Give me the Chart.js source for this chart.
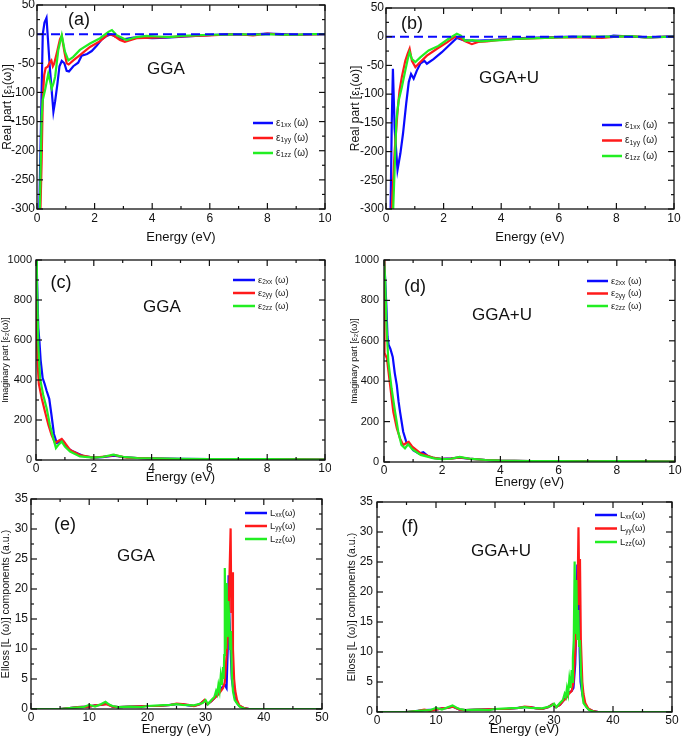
<!DOCTYPE html>
<html><head><meta charset="utf-8">
<script src="https://cdn.jsdelivr.net/npm/chart.js@4.4.1/dist/chart.umd.min.js"></script>
<style>
body{margin:0;background:#fff;width:685px;height:737px;position:relative;overflow:hidden;font-family:"Liberation Sans",Arial,sans-serif}
canvas{position:absolute}
</style>
</head><body>
<canvas id="pa"></canvas><canvas id="pb"></canvas><canvas id="pc"></canvas>
<canvas id="pd"></canvas><canvas id="pe"></canvas><canvas id="pf"></canvas>
<script>
// ---------- DATA ----------
// (a) GGA, real part eps1
const aBlueE  = [0.08,0.14,0.2,0.26,0.33,0.45,0.57,0.63,0.71,0.78,0.86,0.95,1.03,1.11,1.26,1.43,1.55,1.74,1.9,2.07,2.25,2.42,2.56,2.71,3.0,3.35,3.7,4.0,4.5,5.2,5.8,6.2,6.8,7.3,8.0,8.5,9.1,9.6,10];
const aBlueV  = [-300,-150,0,20,28,-60,-133,-115,-85,-55,-46,-50,-63,-64,-55,-49,-37,-34,-29,-20,-9,-3,0,-4,-9,-6,-6,-7,-6,-4,-2,-1,0,-1,1,0,-1,0,0];
const aRedE   = [0.12,0.16,0.2,0.25,0.3,0.37,0.45,0.5,0.55,0.6,0.7,0.8,0.86,0.95,1.03,1.1,1.26,1.49,1.84,2.19,2.48,2.65,2.88,3.05,3.46,4.0,4.5,5.0,5.5,6.0,6.5,7.0,7.5,8.0,8.5,9.0,10];
const aRedV   = [-300,-220,-110,-70,-58,-56,-48,-45,-55,-50,-30,-8,-3,-30,-50,-52,-45,-36,-22,-12,0,-2,-10,-13,-7,-6,-5,-4,-3,-2,-1,0,-2,1,-1,-1,0];
const aGreenE = [0.1,0.16,0.2,0.28,0.39,0.45,0.51,0.57,0.63,0.74,0.86,0.97,1.09,1.26,1.49,1.84,2.19,2.48,2.6,2.77,3.11,3.46,3.8,4.2,4.6,5.0,5.5,6.0,6.5,7.0,7.5,8.0,8.5,9.0,9.5,10];
const aGreenV = [-300,-142,-113,-96,-68,-80,-93,-85,-73,-27,-2,-30,-45,-39,-27,-16,-7,4,7,-2,-10,-5,-3,-4,-5,-3,-2,-1,-1,0,-1,0,-1,-1,0,0];
// (b) GGA+U, real part eps1
const bBlueE  = [0.16,0.2,0.24,0.3,0.4,0.5,0.59,0.7,0.79,0.87,0.96,1.07,1.19,1.33,1.42,1.65,1.94,2.23,2.46,2.69,3.04,3.62,4.2,4.9,5.6,6.5,7.2,7.7,7.9,8.5,9.2,10];
const bBlueV  = [-300,-150,-56,-160,-232,-203,-169,-117,-79,-65,-73,-59,-47,-42,-47,-39,-27,-13,-2,-6,-7,-6,-4,-2,-1,0,-1,0,2,0,-1,1];
const bRedE   = [0.2,0.3,0.4,0.47,0.55,0.67,0.75,0.82,0.9,1.02,1.13,1.42,1.77,2.12,2.4,2.55,2.75,2.98,3.2,3.5,4.0,4.5,5.0,6.0,7.0,7.5,8.0,8.5,9.0,10];
const bRedV   = [-300,-200,-130,-94,-70,-42,-30,-21,-42,-53,-47,-33,-21,-10,0,-2,-8,-13,-9,-8,-5,-4,-3,-1,-1,-2,0,1,-1,0];
const bGreenE = [0.25,0.36,0.44,0.55,0.67,0.75,0.82,0.9,1.02,1.19,1.48,1.82,2.16,2.46,2.6,2.75,3.0,3.3,3.6,4.0,4.5,5.0,5.5,6.0,7.0,8.0,8.5,9.0,10];
const bGreenV = [-300,-146,-111,-88,-59,-40,-27,-39,-44,-36,-24,-16,-4,5,2,-7,-6,-8,-7,-6,-4,-3,-2,-1,0,0,1,-1,0];
// zero reference line for (a),(b)
const zeroE = [0,10];
const zeroV = [0,0];
// (c) GGA, imaginary part eps2
const cBlueE  = [0.02,0.05,0.08,0.12,0.16,0.23,0.3,0.37,0.46,0.54,0.62,0.72,0.8,0.9,0.97,1.06,1.29,1.64,2.0,2.3,2.7,3.0,3.5,4,5,6,7,8,9,10];
const cBlueV  = [1000,820,660,590,500,410,380,345,305,220,130,85,90,100,90,62,42,20,12,14,22,15,10,8,6,5,4,3,3,2];
const cRedE   = [0.01,0.03,0.06,0.1,0.2,0.31,0.43,0.54,0.66,0.77,0.89,1.0,1.18,1.52,1.98,2.2,2.56,2.7,2.9,3.14,3.5,4,4.5,5,6,7,8,9,10];
const cRedV   = [820,600,470,380,308,242,175,125,85,95,105,85,50,25,12,15,20,25,18,12,10,8,6,5,4,4,3,3,2];
const cGreenE = [0,0.03,0.05,0.08,0.14,0.25,0.37,0.48,0.6,0.69,0.77,0.89,1.0,1.18,1.52,1.98,2.3,2.67,3.0,3.5,4,5,6,7,8,9,10];
const cGreenV = [1000,900,790,575,408,325,258,175,108,60,75,92,67,42,18,12,15,27,16,10,8,6,5,4,4,3,2];
// (d) GGA+U, imaginary part eps2
const dBlueE  = [0.01,0.05,0.08,0.12,0.16,0.22,0.3,0.37,0.44,0.5,0.55,0.66,0.78,0.89,1.0,1.2,1.35,1.5,1.7,2.0,2.3,2.6,3.0,3.5,4,5,6,7,8,9,10];
const dBlueV  = [1000,870,777,620,580,560,520,440,381,300,249,150,93,88,59,42,48,30,20,15,18,22,15,10,7,5,4,3,3,3,2];
const dRedE   = [0,0.01,0.025,0.1,0.21,0.32,0.44,0.55,0.66,0.78,0.85,0.97,1.26,1.72,2.0,2.3,2.6,3.0,3.5,4,5,6,7,8,9,10];
const dRedV   = [1000,800,540,513,381,249,167,117,84,95,100,76,43,20,15,17,23,15,10,7,5,4,3,3,3,2];
const dGreenE = [0,0.04,0.09,0.15,0.26,0.38,0.49,0.6,0.72,0.83,0.97,1.26,1.72,2.0,2.3,2.6,3.0,3.5,4,5,6,7,8,9,10];
const dGreenV = [1000,900,662,497,365,249,150,84,68,88,63,35,18,14,16,25,15,10,7,5,4,3,4,3,2];
// (e) GGA, energy loss
const eBlueE  = [0,5,7,8,10,11,12,13,14,15,17,20,22,24,25,26,27,28,29,29.8,30.3,31,31.5,32,32.5,33,33.3,33.6,33.8,33.95,34.1,34.3,34.5,34.8,35,35.3,35.8,36.5,37.5,50];
const eBlueV  = [0,0,0.2,0.3,0.4,0.6,0.7,0.9,0.4,0.3,0.4,0.5,0.5,0.7,0.8,0.8,0.6,0.5,0.8,1.4,0.8,1.3,1.8,2.4,3.2,3.8,4,3.5,10,22.3,15,10,5,3,2,1.2,0.5,0.2,0,0];
const eRedE   = [0,5,7,8,10,11,12,13,14,15,17,20,22,24,25,26,27,28,29,29.8,30.3,31,31.5,32,32.5,33,33.3,33.6,33.8,34.0,34.1,34.3,34.42,34.55,34.7,34.9,35.1,35.4,35.8,36.5,37.5,50];
const eRedV   = [0,0,0.2,0.3,0.4,0.6,0.7,0.8,0.4,0.3,0.4,0.5,0.5,0.7,0.9,0.8,0.7,0.5,0.8,1.5,0.8,1.3,1.8,2.2,2.8,3.5,4.5,9,12,18,22,30.1,16,22.8,10,5,3,1.5,0.6,0.2,0,0];
const eGreenE = [0,5,7,9,10,11,12,12.8,13.5,14,15,17,19,20,22,24,25,26,28,29.5,30,30.4,31,31.5,31.8,32,32.2,32.4,32.6,32.8,33,33.1,33.2,33.3,33.45,33.6,33.75,33.9,34.07,34.2,34.35,34.5,34.7,35,35.5,36,37,50];
const eGreenV = [0,0,0.2,0.3,0.7,0.4,0.8,1.2,0.7,0.5,0.3,0.4,0.3,0.5,0.6,0.7,0.8,0.7,0.6,1,1.5,0.8,1.5,2,3,2.5,4,3,5.5,4,7,5,9,23.5,10,21,12,18,14.8,10,13,6,3,1.5,0.8,0.3,0,0];
// (f) GGA+U, energy loss
const fBlueE  = [0,5,7,8,10,11,12,12.8,14,15,17,20,22,24,25,26,27,28,29,29.8,30.3,31,31.5,32,32.5,33,33.3,33.6,33.8,33.95,34.1,34.2,34.35,34.5,34.8,35,35.3,35.8,36.5,37.5,50];
const fBlueV  = [0,0,0.2,0.3,0.4,0.6,0.7,0.9,0.4,0.3,0.4,0.5,0.5,0.7,0.8,0.8,0.6,0.5,0.8,1.3,0.8,1.2,1.8,2.4,3.2,3.5,4,8,15,24.6,14,20,10,5,3,2,1.2,0.5,0.2,0,0];
const fRedE   = [0,5,7,8,9,10,11,12,12.8,14,15,17,20,22,24,25,26,27,28,29,29.8,30.3,31,31.5,32,32.5,33,33.3,33.6,33.8,34.0,34.15,34.3,34.4,34.55,34.8,35,35.3,35.8,36.5,37.5,50];
const fRedV   = [0,0,0.2,0.4,0.2,0.4,0.6,0.7,0.9,0.4,0.3,0.4,0.5,0.5,0.7,0.9,0.8,0.6,0.5,0.8,1.3,0.8,1.2,1.8,2.2,3,3.5,5,10,14,20,30.8,18,25.5,12,5,3,1.5,0.6,0.2,0,0];
const fGreenE = [0,5,7,9,10,11,12,12.8,13.5,14,15,17,19,20,22,24,25,26,28,29.5,30,30.4,31,31.5,31.8,32,32.2,32.4,32.6,32.8,33,33.1,33.2,33.35,33.5,33.65,33.8,33.95,34.1,34.25,34.4,34.6,34.8,35,35.5,36,37,50];
const fGreenV = [0,0,0.2,0.3,0.7,0.4,0.8,1.1,0.7,0.5,0.3,0.4,0.3,0.5,0.6,0.7,0.8,0.7,0.6,1,1.4,0.8,1.5,2,3,2.5,4,3,5.5,4,7,5,9,12,25.1,13,22,12,17,11,12,6,3,1.5,0.8,0.3,0,0];

// axis ranges
const epsXRange = [0,10];
const eps1YRange = [-300,50];
const eps2YRange = [0,1000];
const lossXRange = [0,50];
const lossYRange = [0,35];

// text
const eps1Legend = [['ε','1xx',' (ω)'],['ε','1yy',' (ω)'],['ε','1zz',' (ω)']];
const eps2Legend = [['ε','2xx',' (ω)'],['ε','2yy',' (ω)'],['ε','2zz',' (ω)']];
const lossLegend = [['L','xx','(ω)'],['L','yy','(ω)'],['L','zz','(ω)']];
const methods = ['GGA','GGA+U'];
const eps1Title = 'Real part [ε₁(ω)]';
const eps2Title = 'Imaginary part [ε₂(ω)]';
const lossTitle = 'Elloss [L (ω)] components (a.u.)';
const xTitle = 'Energy (eV)';

// ---------- RENDERING ----------
const BLUE='#0a0aff', RED='#ff1a1a', GREEN='#22ee22';
const FONT='"Liberation Sans", Arial, sans-serif';
const pts=(xs,ys)=>xs.map((x,i)=>({x,y:ys[i]}));

function richText(ctx,x,y,parts,sizes){
  parts.forEach((t,i)=>{
    const s=sizes[i];
    ctx.font=s.size+'px '+FONT;
    ctx.fillText(t,x,y+(s.dy||0));
    x+=ctx.measureText(t).width;
  });
}

const decor={
  id:'decor',
  afterDatasetsDraw(chart,args,o){
    const {ctx,chartArea:a,scales:{x,y}}=chart;
    ctx.save();
    ctx.strokeStyle='#111';ctx.lineWidth=1.3;
    ctx.strokeRect(a.left,a.top,a.right-a.left,a.bottom-a.top);
    ctx.lineWidth=1.2;
    const seg=(x1,y1,x2,y2)=>{ctx.beginPath();ctx.moveTo(x1,y1);ctx.lineTo(x2,y2);ctx.stroke();};
    const tk=(scale,step,horiz)=>{
      const n=Math.round((scale.max-scale.min)/(step/2));
      for(let i=0;i<=n;i++){
        const v=scale.min+i*step/2;
        const len=(i%2===0)?6:3;
        const p=scale.getPixelForValue(v);
        if(horiz){seg(p,a.bottom,p,a.bottom-len);seg(p,a.top,p,a.top+len);}
        else{seg(a.left,p,a.left+len,p);seg(a.right,p,a.right-len,p);}
      }
    };
    tk(x,o.xStep,true);tk(y,o.yStep,false);
    ctx.fillStyle='#111';ctx.textBaseline='middle';ctx.textAlign='center';
    ctx.font=o.letterSize+'px '+FONT;ctx.fillText(o.letter,o.lx,o.ly);
    ctx.font='17px '+FONT;ctx.fillText(o.method,o.mx,o.my);
    ctx.textAlign='left';
    const L=o.legend;
    L.items.forEach((it,i)=>{
      const yy=L.y+i*L.dy;
      ctx.strokeStyle=[BLUE,RED,GREEN][i];ctx.lineWidth=2.5;
      seg(L.x,yy,L.x+L.len,yy);
      ctx.fillStyle='#222';
      richText(ctx,L.x+L.len+3,yy,it,[{size:L.fs},{size:L.fs*0.68,dy:2.5},{size:L.fs}]);
    });
    ctx.restore();
  }
};

function makeChart(id,box,area,xr,xStep,yr,yStep,tickFs,yPad,ytitle,yTitleFs,yTitlePad,xPad,series,zero,deco){
  const cv=document.getElementById(id);
  cv.width=box.w;cv.height=box.h;
  cv.style.left=box.l+'px';cv.style.top=box.t+'px';
  const ds=series.map((s,i)=>({data:s,borderColor:[BLUE,RED,GREEN][i],borderWidth:2.2,pointRadius:0,tension:0,fill:false,order:3-i}));
  if(zero) ds.push({data:zero,borderColor:BLUE,borderWidth:2,borderDash:[9,5],pointRadius:0,fill:false,order:-1});
  const plain=v=>String(v);
  new Chart(cv,{
    type:'line',
    data:{datasets:ds},
    options:{
      responsive:false,animation:false,
      layout:{autoPadding:false,padding:{left:0,top:area.T,right:area.R,bottom:0}},
      plugins:{legend:{display:false},tooltip:{enabled:false},decor:deco},
      scales:{
        x:{type:'linear',min:xr[0],max:xr[1],
          grid:{display:false,drawTicks:false},border:{display:false},
          ticks:{stepSize:xStep,padding:xPad,color:'#111',font:{family:FONT,size:12},maxRotation:0,autoSkip:false,callback:plain},
          title:{display:true,text:xTitle,color:'#111',font:{family:FONT,size:13},padding:{top:0,bottom:0}},
          afterFit:s=>{s.height=area.B;s.paddingLeft=0;s.paddingRight=0;}},
        y:{type:'linear',min:yr[0],max:yr[1],
          grid:{display:false,drawTicks:false},border:{display:false},
          ticks:{stepSize:yStep,padding:yPad,color:'#111',font:{family:FONT,size:tickFs},callback:plain},
          title:{display:true,text:ytitle,color:'#111',font:{family:FONT,size:yTitleFs},padding:{top:yTitlePad,bottom:0}},
          afterFit:s=>{s.width=area.L;s.paddingTop=0;s.paddingBottom=0;}}
      }
    },
    plugins:[decor]
  });
}

const zeroLine=pts(zeroE,zeroV);
makeChart('pa',{l:0,t:0,w:331,h:245},{L:37,T:5,R:6,B:36},epsXRange,2,eps1YRange,50,12,2,eps1Title,12,0,2,
  [pts(aBlueE,aBlueV),pts(aRedE,aRedV),pts(aGreenE,aGreenV)],zeroLine,
  {xStep:2,yStep:50,letter:'(a)',letterSize:18,lx:79,ly:20,method:methods[0],mx:166,my:69,
   legend:{x:253,y:123,dy:15,len:20,fs:10,items:eps1Legend}});
makeChart('pb',{l:340,t:0,w:345,h:245},{L:46,T:8,R:11,B:36},epsXRange,2,eps1YRange,50,12,2,eps1Title,12,8,2,
  [pts(bBlueE,bBlueV),pts(bRedE,bRedV),pts(bGreenE,bGreenV)],zeroLine,
  {xStep:2,yStep:50,letter:'(b)',letterSize:18,lx:72,ly:24,method:methods[1],mx:169,my:78,
   legend:{x:262,y:125,dy:15.5,len:20,fs:10,items:eps1Legend}});
makeChart('pc',{l:0,t:245,w:331,h:240},{L:36,T:15,R:6,B:25},epsXRange,2,eps2YRange,200,11,4,eps2Title,9,0,1,
  [pts(cBlueE,cBlueV),pts(cRedE,cRedV),pts(cGreenE,cGreenV)],null,
  {xStep:2,yStep:200,letter:'(c)',letterSize:18,lx:61,ly:38,method:methods[0],mx:162,my:62,
   legend:{x:233,y:35,dy:13,len:22,fs:9.5,items:eps2Legend}});
makeChart('pd',{l:340,t:245,w:345,h:245},{L:44,T:15,R:10,B:28},epsXRange,2,eps2YRange,200,11,5,eps2Title,9,9,1,
  [pts(dBlueE,dBlueV),pts(dRedE,dRedV),pts(dGreenE,dGreenV)],null,
  {xStep:2,yStep:200,letter:'(d)',letterSize:18,lx:75,ly:42,method:methods[1],mx:162,my:70,
   legend:{x:247,y:36,dy:12.5,len:21,fs:9.5,items:eps2Legend}});
makeChart('pe',{l:0,t:490,w:340,h:247},{L:31,T:9,R:18,B:28},lossXRange,10,lossYRange,5,12,3,lossTitle,10.5,0,1,
  [pts(eBlueE,eBlueV),pts(eRedE,eRedV),pts(eGreenE,eGreenV)],null,
  {xStep:10,yStep:5,letter:'(e)',letterSize:18,lx:65,ly:35,method:methods[0],mx:136,my:66,
   legend:{x:245,y:23,dy:13,len:22,fs:9.5,items:lossLegend}});
makeChart('pf',{l:340,t:490,w:345,h:247},{L:37,T:12,R:13,B:25},lossXRange,10,lossYRange,5,12,4,lossTitle,10.5,6,1,
  [pts(fBlueE,fBlueV),pts(fRedE,fRedV),pts(fGreenE,fGreenV)],null,
  {xStep:10,yStep:5,letter:'(f)',letterSize:18,lx:70,ly:37,method:methods[1],mx:161,my:61,
   legend:{x:255,y:25,dy:13.5,len:22,fs:9.5,items:lossLegend}});
</script>
</body></html>
